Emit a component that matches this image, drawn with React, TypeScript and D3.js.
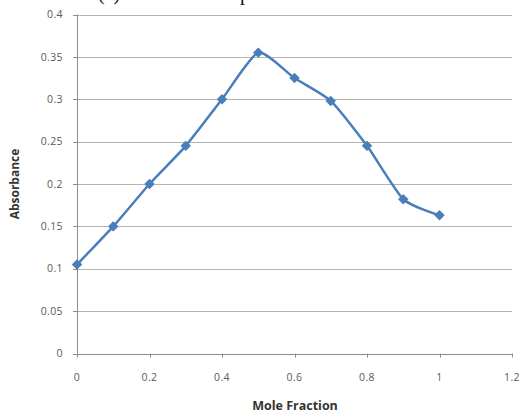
import React from "react";
import * as d3 from "d3";

const moleFraction = [0, 0.1, 0.2, 0.3, 0.4, 0.5, 0.6, 0.7, 0.8, 0.9, 1.0];
const absorbance = [0.105, 0.15, 0.2, 0.245, 0.3, 0.355, 0.325, 0.298, 0.245, 0.182, 0.163];
const xTicks = [0, 0.2, 0.4, 0.6, 0.8, 1, 1.2];
const yTicks = [0, 0.05, 0.1, 0.15, 0.2, 0.25, 0.3, 0.35, 0.4];
const xTitle = "Mole Fraction";
const yTitle = "Absorbance";

const W = 529;
const H = 413;

export default function App() {
  const x = d3.scaleLinear().domain([0, 1.2]).range([77, 512]);
  const y = d3.scaleLinear().domain([0, 0.4]).range([353.5, 14.5]);
  const pts = moleFraction.map((m, i) => [x(m), y(absorbance[i])] as [number, number]);
  const line = d3.line().curve(d3.curveCardinal.tension(0.4))(pts) || "";
  const font = "'Open Sans', 'DejaVu Sans', sans-serif";
  return (
    <svg
      width={W}
      height={H}
      style={{ position: "absolute", left: 0, top: 0, display: "block", background: "#fff" }}
    >
      <text x={98} y={0} fontFamily="'Liberation Serif', serif" fontSize={20} fill="#111">(c)</text>
      <text x={240} y={0} fontFamily="'Liberation Serif', serif" fontSize={20} fill="#111">p</text>
      {yTicks.map((t) => (
        <line
          key={"g" + t}
          x1={x(0)}
          x2={x(1.2)}
          y1={Math.round(y(t)) + 0.5}
          y2={Math.round(y(t)) + 0.5}
          stroke={t === 0 ? "#8c8c8c" : "#b4b4b4"}
          strokeWidth={1}
        />
      ))}
      <line x1={x(0) + 0.5} x2={x(0) + 0.5} y1={y(0.4)} y2={y(0)} stroke="#8c8c8c" strokeWidth={1} />
      {yTicks.map((t) => (
        <line key={"yt" + t} x1={x(0) - 4} x2={x(0)} y1={Math.round(y(t)) + 0.5} y2={Math.round(y(t)) + 0.5} stroke="#8c8c8c" />
      ))}
      {xTicks.map((t) => (
        <line key={"xt" + t} x1={Math.round(x(t)) + 0.5} x2={Math.round(x(t)) + 0.5} y1={y(0)} y2={y(0) + 4} stroke="#8c8c8c" />
      ))}
      {yTicks.map((t) => (
        <text
          key={"yl" + t}
          x={63}
          y={y(t)}
          dy="0.35em"
          textAnchor="end"
          fontFamily={font}
          fontSize={10.5}
          letterSpacing={0.4}
          fill="#5a5a5a"
        >
          {String(t)}
        </text>
      ))}
      {xTicks.map((t) => (
        <text
          key={"xl" + t}
          x={x(t)}
          y={381}
          textAnchor="middle"
          fontFamily={font}
          fontSize={10.5}
          letterSpacing={0.4}
          fill="#5a5a5a"
        >
          {String(t)}
        </text>
      ))}
      <text
        x={295}
        y={410}
        textAnchor="middle"
        fontFamily={font}
        fontSize={12.5}
        fontWeight="bold"
        fill="#333"
      >
        {xTitle}
      </text>
      <text
        transform={`translate(19,${184}) rotate(-90)`}
        textAnchor="middle"
        fontFamily={font}
        fontSize={12}
        fontWeight="bold"
        fill="#333"
      >
        {yTitle}
      </text>
      <path d={line} fill="none" stroke="#4a7ebb" strokeWidth={2.5} strokeLinejoin="round" />
      {pts.map((p, i) => (
        <rect
          key={"m" + i}
          x={-3.2}
          y={-3.2}
          width={6.4}
          height={6.4}
          transform={`translate(${p[0]},${p[1]}) rotate(45)`}
          fill="#4a7ebb"
          stroke="#4a7ebb"
          strokeWidth={1}
        />
      ))}
    </svg>
  );
}
